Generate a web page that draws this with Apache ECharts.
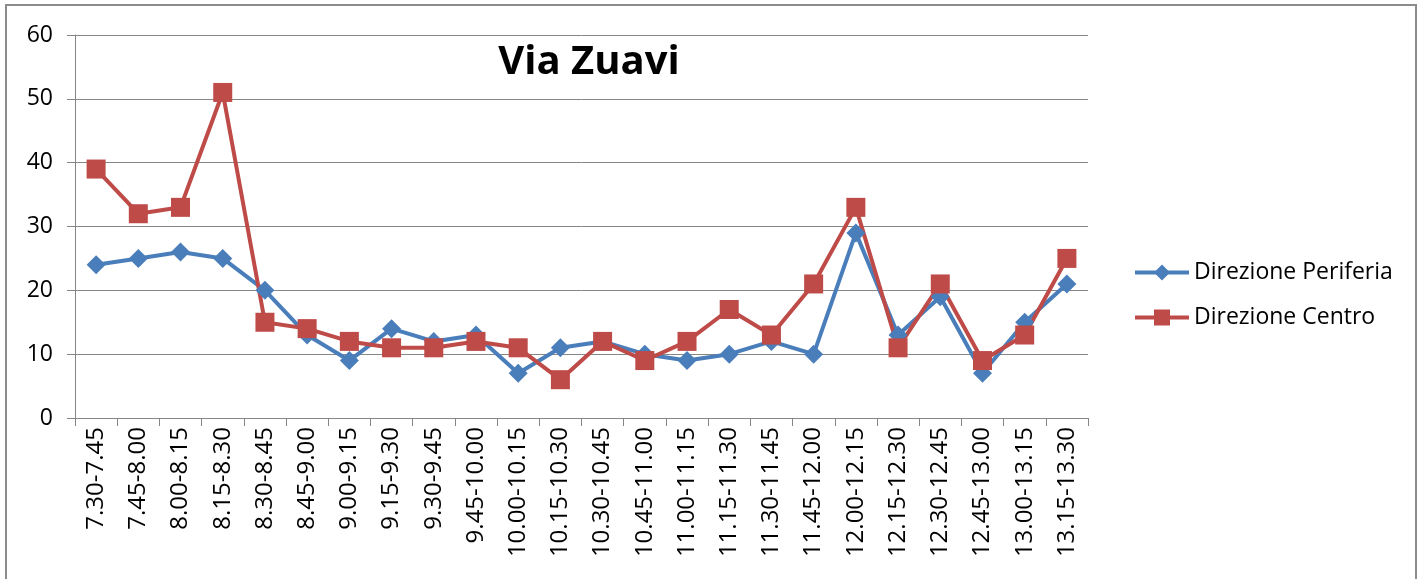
<!DOCTYPE html>
<html>
<head>
<meta charset="utf-8">
<title>Via Zuavi</title>
<script src="https://cdn.jsdelivr.net/npm/echarts@6/dist/echarts.min.js"></script>
<style>
  html, body { margin: 0; padding: 0; background: #fff; overflow: hidden; }
  #chart { position: absolute; left: 0; top: 0; width: 1423px; height: 579px; }
  #frame { position: absolute; left: 5px; top: 4px; width: 1408px; height: 600px;
           border: 2px solid #8c8c8c; pointer-events: none; }
</style>
</head>
<body>
<div id="chart"></div>
<div id="frame"></div>
<script>
  // fasce orarie
  var fasce = ['7.30-7.45', '7.45-8.00', '8.00-8.15', '8.15-8.30', '8.30-8.45', '8.45-9.00',
    '9.00-9.15', '9.15-9.30', '9.30-9.45', '9.45-10.00', '10.00-10.15', '10.15-10.30',
    '10.30-10.45', '10.45-11.00', '11.00-11.15', '11.15-11.30', '11.30-11.45', '11.45-12.00',
    '12.00-12.15', '12.15-12.30', '12.30-12.45', '12.45-13.00', '13.00-13.15', '13.15-13.30'];
  var periferia = [24, 25, 26, 25, 20, 13, 9, 14, 12, 13, 7, 11, 12, 10, 9, 10, 12, 10, 29, 13, 19, 7, 15, 21];
  var centro = [39, 32, 33, 51, 15, 14, 12, 11, 11, 12, 11, 6, 12, 9, 12, 17, 13, 21, 33, 11, 21, 9, 13, 25];

  var font = '"Open Sans", "DejaVu Sans", sans-serif';
  var grigio = '#868686';

  var myChart = echarts.init(document.getElementById('chart'));
  myChart.setOption({
    animation: false,
    textStyle: { fontFamily: font },
    title: {
      text: 'Via Zuavi',
      left: 584,
      top: 38,
      textAlign: 'center',
      textStyle: { fontFamily: font, fontSize: 40, fontWeight: 'bold', color: '#000' }
    },
    legend: {
      orient: 'vertical',
      left: 1128,
      top: 256,
      itemWidth: 54,
      itemHeight: 20,
      itemGap: 22,
      lineStyle: { width: 4 },
      textStyle: { fontFamily: font, fontSize: 23, color: '#000' },
      data: ['Direzione Periferia', 'Direzione Centro']
    },
    grid: { left: 75, right: 335, top: 35, bottom: 161 },
    xAxis: {
      type: 'category',
      data: fasce,
      boundaryGap: true,
      axisLine: { lineStyle: { color: grigio, width: 1 } },
      axisTick: { show: true, length: 8, alignWithLabel: false, lineStyle: { color: grigio } },
      axisLabel: { rotate: 90, interval: 0, margin: 9, fontSize: 24, color: '#000', fontFamily: font }
    },
    yAxis: {
      type: 'value',
      min: 0,
      max: 60,
      interval: 10,
      axisLine: { show: true, lineStyle: { color: grigio, width: 1 } },
      axisTick: { show: true, length: 8, lineStyle: { color: grigio } },
      splitLine: { lineStyle: { color: grigio, width: 1 } },
      axisLabel: { margin: 22, fontSize: 23, color: '#000', fontFamily: font }
    },
    series: [
      {
        name: 'Direzione Periferia',
        type: 'line',
        data: periferia,
        symbol: 'diamond',
        symbolSize: 19,
        color: '#4a7ebb',
        lineStyle: { width: 4, color: '#4a7ebb' },
        itemStyle: { color: '#4a7ebb' }
      },
      {
        name: 'Direzione Centro',
        type: 'line',
        data: centro,
        symbol: 'rect',
        symbolSize: 19,
        color: '#be4b48',
        lineStyle: { width: 4, color: '#be4b48' },
        itemStyle: { color: '#be4b48' }
      }
    ]
  });
</script>
</body>
</html>
